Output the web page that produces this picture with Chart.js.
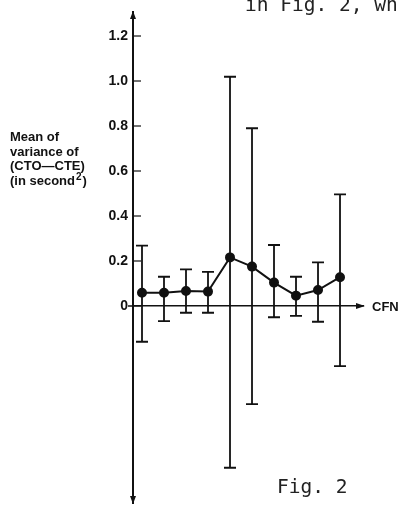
<!DOCTYPE html>
<html>
<head>
<meta charset="utf-8">
<script src="https://cdn.jsdelivr.net/npm/chart.js@4/dist/chart.umd.min.js"></script>
<style>
  html, body { margin: 0; padding: 0; background: #fff; }
  #wrap { position: relative; width: 398px; height: 505px; overflow: hidden; }
  canvas { display: block; }
</style>
</head>
<body>
<div id="wrap"><canvas id="c" width="398" height="505"></canvas></div>
<script>
// ---- data ----
const categories = [1, 2, 3, 4, 5, 6, 7, 8, 9, 10];
const meanVariance = [0.059, 0.059, 0.067, 0.064, 0.216, 0.175, 0.104, 0.046, 0.071, 0.128];
const upperBound = [0.268, 0.130, 0.163, 0.152, 1.019, 0.790, 0.271, 0.130, 0.194, 0.496];
const lowerBound = [-0.159, -0.067, -0.030, -0.030, -0.719, -0.436, -0.050, -0.044, -0.070, -0.267];
const yTickValues = [0, 0.2, 0.4, 0.6, 0.8, 1.0, 1.2];
const yTickLabels = ['0', '0.2', '0.4', '0.6', '0.8', '1.0', '1.2'];
const yAxisTitle = ['Mean of', 'variance of', '(CTO\u2014CTE)', '(in second'];
const yAxisTitleSup = '2';
const yAxisTitleEnd = ')';
const xAxisTitle = 'CFN';
const figureCaption = 'Fig. 2';
const runningText = 'in Fig. 2, wh';

const INK = '#111';

const decorPlugin = {
  id: 'decor',
  afterDatasetsDraw(chart) {
    const ctx = chart.ctx;
    const xs = chart.scales.x, ys = chart.scales.y;
    const area = chart.chartArea;
    ctx.save();
    ctx.strokeStyle = INK;
    ctx.fillStyle = INK;
    // error bars
    ctx.lineWidth = 1.8;
    categories.forEach((c, i) => {
      const px = xs.getPixelForValue(c);
      const pt = ys.getPixelForValue(upperBound[i]);
      const pb = ys.getPixelForValue(lowerBound[i]);
      ctx.beginPath();
      ctx.moveTo(px, pt); ctx.lineTo(px, pb);
      ctx.moveTo(px - 6, pt); ctx.lineTo(px + 6, pt);
      ctx.moveTo(px - 6, pb); ctx.lineTo(px + 6, pb);
      ctx.stroke();
    });
    // inner tick marks on y axis
    const ax = area.left;
    ctx.lineWidth = 1.2;
    yTickValues.forEach(v => {
      const py = ys.getPixelForValue(v);
      ctx.beginPath();
      ctx.moveTo(ax, py); ctx.lineTo(ax + 8, py);
      ctx.stroke();
    });
    // arrow heads
    const y0 = ys.getPixelForValue(0);
    ctx.beginPath();
    ctx.moveTo(ax, area.top - 1); ctx.lineTo(ax - 3, area.top + 7); ctx.lineTo(ax + 3, area.top + 7); ctx.closePath(); ctx.fill();
    ctx.beginPath();
    ctx.moveTo(ax, area.bottom + 1); ctx.lineTo(ax - 3, area.bottom - 7); ctx.lineTo(ax + 3, area.bottom - 7); ctx.closePath(); ctx.fill();
    ctx.beginPath();
    ctx.moveTo(area.right + 2, y0); ctx.lineTo(area.right - 7, y0 - 3); ctx.lineTo(area.right - 7, y0 + 3); ctx.closePath(); ctx.fill();
    // x axis line slightly past y axis
    ctx.lineWidth = 1.5;
    ctx.beginPath(); ctx.moveTo(ax - 5, y0); ctx.lineTo(ax, y0); ctx.stroke();
    // texts
    ctx.textBaseline = 'alphabetic';
    ctx.textAlign = 'left';
    const f = 'bold 13px "Liberation Sans", Arial, sans-serif';
    ctx.font = f;
    yAxisTitle.forEach((t, i) => ctx.fillText(t, 10, 141 + i * 14.5));
    const lastY = 141 + 3 * 14.5;
    let w = ctx.measureText(yAxisTitle[3]).width;
    ctx.font = 'bold 10px "Liberation Sans", Arial, sans-serif';
    ctx.fillText(yAxisTitleSup, 10 + w + 1, lastY - 5);
    const w2 = ctx.measureText(yAxisTitleSup).width;
    ctx.font = f;
    ctx.fillText(yAxisTitleEnd, 10 + w + w2 + 2, lastY);
    ctx.font = 'bold 13px "Liberation Sans", Arial, sans-serif';
    ctx.textBaseline = 'middle';
    ctx.fillText(xAxisTitle, area.right + 9, y0 + 1);
    ctx.textBaseline = 'alphabetic';
    ctx.fillStyle = '#222';
    ctx.font = '19.5px "DejaVu Sans Mono", "Liberation Mono", monospace';
    ctx.fillText(runningText, 245, 11);
    ctx.fillText(figureCaption, 277, 493);
    ctx.restore();
  }
};

new Chart(document.getElementById('c'), {
  type: 'line',
  data: {
    datasets: [{
      data: categories.map((c, i) => ({ x: c, y: meanVariance[i] })),
      borderColor: INK,
      backgroundColor: INK,
      borderWidth: 2,
      pointRadius: 4,
      pointBackgroundColor: INK,
      pointBorderColor: INK,
      tension: 0,
      clip: false
    }]
  },
  options: {
    responsive: false,
    animation: false,
    events: [],
    layout: { autoPadding: false, padding: { top: 12, right: 35, bottom: 2, left: 0 } },
    plugins: { legend: { display: false }, tooltip: { enabled: false } },
    scales: {
      x: {
        type: 'linear',
        min: 0.591,
        max: 11.045,
        position: { y: 0 },
        afterFit: (scale) => { scale.height = 0; scale.paddingLeft = 0; scale.paddingRight = 0; },
        grid: { display: false, drawTicks: false },
        ticks: { display: false },
        border: { display: true, color: INK, width: 1.5 }
      },
      y: {
        type: 'linear',
        min: -0.8756,
        max: 1.3067,
        afterBuildTicks: (scale) => { scale.ticks = yTickValues.map(v => ({ value: v })); },
        afterFit: (scale) => { scale.width = 133; scale.paddingTop = 0; scale.paddingBottom = 0; },
        grid: { display: false, drawTicks: false },
        border: { display: true, color: INK, width: 2 },
        ticks: {
          color: INK,
          padding: 5,
          font: { family: '"Liberation Sans", Arial, sans-serif', size: 14, weight: 'bold' },
          callback: (v) => { const i = yTickValues.findIndex(t => Math.abs(t - v) < 1e-9); return i >= 0 ? yTickLabels[i] : ''; }
        }
      }
    }
  },
  plugins: [decorPlugin]
});
</script>
</body>
</html>
